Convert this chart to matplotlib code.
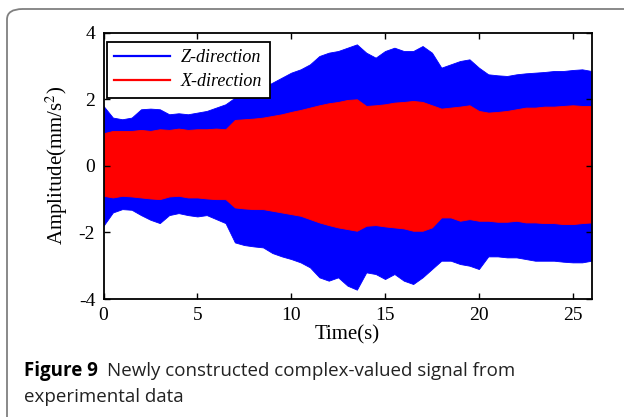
import matplotlib
matplotlib.use("Agg")
import matplotlib.pyplot as plt
from matplotlib.patches import FancyBboxPatch
import numpy as np

plt.rcParams["axes.unicode_minus"] = False
plt.rcParams["mathtext.fontset"] = "stix"

# ---- data (envelopes) ----
time_s = [0.0, 0.5, 1.0, 1.5, 2.0, 2.5, 3.0, 3.5, 4.0, 4.5, 5.0, 5.5, 6.0, 6.5,
          7.0, 7.5, 8.0, 8.5, 9.0, 9.5, 10.0, 10.5, 11.0, 11.5, 12.0, 12.5, 13.0,
          13.5, 14.0, 14.5, 15.0, 15.5, 16.0, 16.5, 17.0, 17.5, 18.0, 18.5, 19.0,
          19.5, 20.0, 20.5, 21.0, 21.5, 22.0, 22.5, 23.0, 23.5, 24.0, 24.5, 25.0,
          25.5, 26.0]
z_upper = [1.80, 1.45, 1.40, 1.45, 1.70, 1.72, 1.70, 1.55, 1.58, 1.55, 1.60, 1.65,
           1.75, 1.85, 2.05, 2.15, 2.25, 2.35, 2.50, 2.65, 2.80, 2.90, 3.05, 3.30,
           3.40, 3.45, 3.55, 3.65, 3.40, 3.25, 3.45, 3.55, 3.45, 3.45, 3.60, 3.40,
           2.95, 3.05, 3.15, 3.20, 2.95, 2.75, 2.72, 2.70, 2.75, 2.78, 2.80, 2.82,
           2.85, 2.85, 2.88, 2.90, 2.85]
z_lower = [-1.80, -1.40, -1.30, -1.32, -1.48, -1.62, -1.72, -1.48, -1.42, -1.48,
           -1.52, -1.48, -1.60, -1.72, -2.30, -2.38, -2.42, -2.45, -2.62, -2.72,
           -2.80, -2.90, -3.05, -3.35, -3.45, -3.35, -3.60, -3.72, -3.20, -3.25,
           -3.40, -3.25, -3.45, -3.55, -3.35, -3.10, -2.85, -2.85, -2.95, -3.00,
           -3.10, -2.72, -2.72, -2.75, -2.75, -2.80, -2.85, -2.85, -2.85, -2.88,
           -2.90, -2.90, -2.85]
x_upper = [0.98, 1.05, 1.05, 1.05, 1.08, 1.05, 1.10, 1.08, 1.12, 1.08, 1.10, 1.10,
           1.12, 1.10, 1.38, 1.40, 1.42, 1.45, 1.50, 1.55, 1.62, 1.68, 1.75, 1.82,
           1.88, 1.92, 1.98, 2.00, 1.80, 1.82, 1.85, 1.90, 1.92, 1.95, 1.92, 1.82,
           1.72, 1.75, 1.78, 1.82, 1.65, 1.60, 1.62, 1.65, 1.70, 1.75, 1.75, 1.78,
           1.78, 1.80, 1.82, 1.80, 1.80]
x_lower = [-0.90, -0.95, -0.90, -0.92, -0.95, -0.98, -1.00, -0.92, -0.90, -0.95,
           -0.95, -0.98, -1.00, -1.00, -1.25, -1.28, -1.30, -1.30, -1.35, -1.40,
           -1.45, -1.50, -1.60, -1.70, -1.78, -1.85, -1.90, -1.95, -1.80, -1.78,
           -1.82, -1.85, -1.88, -1.95, -1.95, -1.85, -1.55, -1.55, -1.65, -1.60,
           -1.65, -1.65, -1.68, -1.68, -1.65, -1.70, -1.70, -1.72, -1.72, -1.75,
           -1.75, -1.72, -1.70]
series_labels = ["Z-direction", "X-direction"]
x_ticks = [0, 5, 10, 15, 20, 25]
y_ticks = [-4, -2, 0, 2, 4]

W, H = 624, 417
fig = plt.figure(figsize=(W / 100, H / 100), dpi=100)

# rounded border (open at right and bottom)
border = FancyBboxPatch((7 / W, -40 / H), (W + 40) / W, (H - 9 + 40) / H,
                        boxstyle="round,pad=0,rounding_size=0.025",
                        transform=fig.transFigure, fill=False,
                        edgecolor="#808080", linewidth=1.3, clip_on=False)
fig.patches.append(border)

ax = fig.add_axes([103.5 / W, 1 - 299 / H, 488 / W, (299 - 32.7) / H])
serif = "Liberation Serif"

ax.fill_between(time_s, z_lower, z_upper, color="#0000ff", linewidth=0.6,
                edgecolor="#0000ff")
ax.fill_between(time_s, x_lower, x_upper, color="#ff0000", linewidth=0.6,
                edgecolor="#ff0000")
ax.plot([], [], color="#0000ff", lw=1.6, label=series_labels[0])
ax.plot([], [], color="#ff0000", lw=1.6, label=series_labels[1])

ax.set_xlim(0, 26)
ax.set_ylim(-4, 4)
ax.set_xticks(x_ticks)
ax.set_yticks(y_ticks)
ax.tick_params(direction="in", top=True, right=True, length=4, width=1,
               labelsize=14, pad=6)
for lab in ax.get_xticklabels() + ax.get_yticklabels():
    lab.set_fontfamily(serif)
for sp in ax.spines.values():
    sp.set_linewidth(1.3)
ax.set_xlabel("Time(s)", fontsize=15, family=serif, labelpad=1)
ax.set_ylabel("Amplitude(mm/s$^2$)", fontsize=15, family=serif, labelpad=6)

leg = ax.legend(loc="upper left", bbox_to_anchor=(0.007, 0.965),
                borderaxespad=0, frameon=True, fancybox=False, framealpha=1,
                prop={"family": serif, "style": "italic", "size": 13},
                handlelength=3.1, labelspacing=0.4, borderpad=0.4,
                handletextpad=0.6)
leg.get_frame().set_edgecolor("black")
leg.get_frame().set_linewidth(1.3)

# caption
cap_size = 13.5
t1 = fig.text(24 / W, 1 - 376 / H, "Figure 9", fontsize=cap_size, family="Open Sans",
              weight="bold", color="black", va="baseline")
fig.canvas.draw()
bb = t1.get_window_extent(renderer=fig.canvas.get_renderer())
fig.text((bb.x1 + 9) / W, 1 - 376 / H, "Newly constructed complex-valued signal from",
         fontsize=cap_size, family="Open Sans", color="#222222", va="baseline")
fig.text(24 / W, 1 - 402 / H, "experimental data", fontsize=cap_size,
         family="Open Sans", color="#222222", va="baseline")

fig.savefig("out.png", dpi=100)
